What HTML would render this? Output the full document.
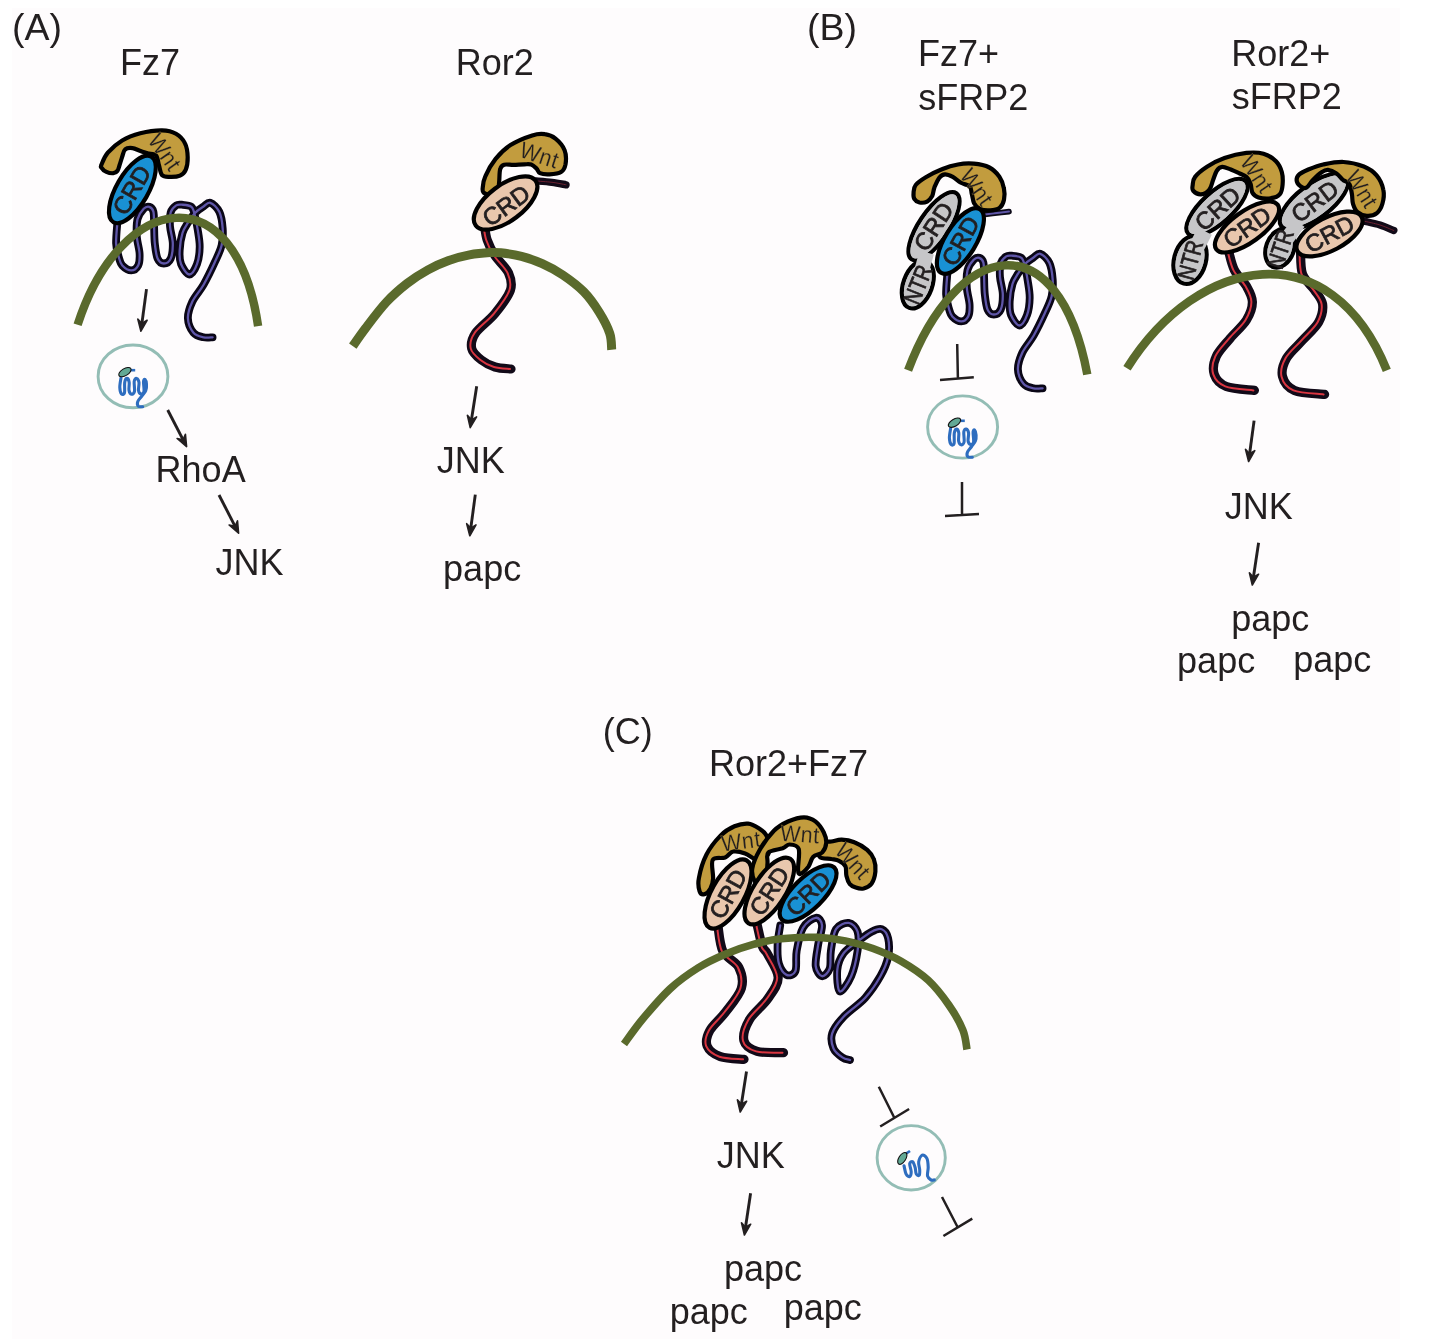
<!DOCTYPE html>
<html><head><meta charset="utf-8"><style>
html,body{margin:0;padding:0;background:#fff;}
svg{display:block;will-change:transform;}
text{font-family:"Liberation Sans", sans-serif;fill:#231f20;}
</style></head><body>
<svg width="1446" height="1339" viewBox="0 0 1446 1339">
<rect x="0" y="0" width="1446" height="1339" fill="#fff"/>
<rect x="12" y="8" width="1388" height="1331" fill="#fefcfd"/>
<text x="12.1" y="40.1" font-size="37.5">(A)</text>
<text x="120.1" y="74.7" font-size="36">Fz7</text>
<text x="455.8" y="74.8" font-size="36">Ror2</text>
<path d="M117.4,222.0 C117.2,225.6 115.9,237.5 116.1,243.4 C116.3,249.3 117.8,253.5 118.8,257.2 C119.8,260.9 120.2,263.3 122.3,265.5 C124.4,267.7 128.7,270.4 131.3,270.4 C134.0,270.4 136.8,268.3 138.2,265.5 C139.6,262.7 139.8,258.6 139.6,253.8 C139.4,249.0 137.2,242.3 136.8,236.5 C136.5,230.7 136.3,223.8 137.5,219.2 C138.7,214.6 141.7,210.9 143.7,208.8 C145.7,206.7 147.7,206.3 149.3,206.8 C150.9,207.3 152.6,208.4 153.4,211.6 C154.2,214.8 153.9,220.8 154.1,226.1 C154.3,231.4 154.2,238.0 154.8,243.4 C155.4,248.8 156.1,255.3 157.6,258.6 C159.1,262.0 161.6,263.5 163.8,263.5 C166.0,263.5 169.2,262.0 170.7,258.6 C172.2,255.3 172.9,248.8 172.8,243.4 C172.7,238.0 170.3,231.3 170.0,226.1 C169.7,220.9 169.7,215.8 170.7,212.3 C171.7,208.9 174.3,206.7 176.2,205.4 C178.0,204.1 179.3,204.5 181.8,204.7 C184.3,204.9 189.2,205.0 191.4,206.8 C193.6,208.6 193.9,211.9 194.9,215.7 C195.9,219.5 196.9,224.4 197.7,229.6 C198.5,234.8 199.8,241.1 199.7,246.9 C199.6,252.7 198.7,259.6 197.0,264.2 C195.3,268.8 192.1,274.5 189.4,274.5 C186.7,274.5 182.6,268.0 181.0,264.0 C179.4,260.0 179.4,255.5 179.7,250.3 C179.9,245.1 181.1,237.6 182.5,233.0 C183.9,228.4 185.9,226.0 188.0,222.7 C190.1,219.4 192.5,215.7 195.0,213.0 C197.5,210.3 200.6,208.5 203.2,206.8 C205.8,205.1 207.6,202.0 210.3,202.8 C213.0,203.6 217.2,207.5 219.3,211.8 C221.4,216.1 222.3,223.0 222.7,228.6 C223.1,234.2 222.9,239.8 221.6,245.4 C220.3,251.0 217.8,255.6 214.8,262.2 C211.8,268.8 207.3,278.1 203.6,284.7 C199.9,291.2 195.0,295.9 192.4,301.5 C189.8,307.1 187.7,313.1 187.9,318.3 C188.1,323.5 190.9,329.6 193.5,332.8 C196.1,336.0 200.4,336.6 203.6,337.3 C206.8,338.1 211.1,337.3 212.6,337.3" fill="none" stroke="#0a0616" stroke-width="7.8" stroke-linecap="round" stroke-linejoin="round"/>
<path d="M117.4,222.0 C117.2,225.6 115.9,237.5 116.1,243.4 C116.3,249.3 117.8,253.5 118.8,257.2 C119.8,260.9 120.2,263.3 122.3,265.5 C124.4,267.7 128.7,270.4 131.3,270.4 C134.0,270.4 136.8,268.3 138.2,265.5 C139.6,262.7 139.8,258.6 139.6,253.8 C139.4,249.0 137.2,242.3 136.8,236.5 C136.5,230.7 136.3,223.8 137.5,219.2 C138.7,214.6 141.7,210.9 143.7,208.8 C145.7,206.7 147.7,206.3 149.3,206.8 C150.9,207.3 152.6,208.4 153.4,211.6 C154.2,214.8 153.9,220.8 154.1,226.1 C154.3,231.4 154.2,238.0 154.8,243.4 C155.4,248.8 156.1,255.3 157.6,258.6 C159.1,262.0 161.6,263.5 163.8,263.5 C166.0,263.5 169.2,262.0 170.7,258.6 C172.2,255.3 172.9,248.8 172.8,243.4 C172.7,238.0 170.3,231.3 170.0,226.1 C169.7,220.9 169.7,215.8 170.7,212.3 C171.7,208.9 174.3,206.7 176.2,205.4 C178.0,204.1 179.3,204.5 181.8,204.7 C184.3,204.9 189.2,205.0 191.4,206.8 C193.6,208.6 193.9,211.9 194.9,215.7 C195.9,219.5 196.9,224.4 197.7,229.6 C198.5,234.8 199.8,241.1 199.7,246.9 C199.6,252.7 198.7,259.6 197.0,264.2 C195.3,268.8 192.1,274.5 189.4,274.5 C186.7,274.5 182.6,268.0 181.0,264.0 C179.4,260.0 179.4,255.5 179.7,250.3 C179.9,245.1 181.1,237.6 182.5,233.0 C183.9,228.4 185.9,226.0 188.0,222.7 C190.1,219.4 192.5,215.7 195.0,213.0 C197.5,210.3 200.6,208.5 203.2,206.8 C205.8,205.1 207.6,202.0 210.3,202.8 C213.0,203.6 217.2,207.5 219.3,211.8 C221.4,216.1 222.3,223.0 222.7,228.6 C223.1,234.2 222.9,239.8 221.6,245.4 C220.3,251.0 217.8,255.6 214.8,262.2 C211.8,268.8 207.3,278.1 203.6,284.7 C199.9,291.2 195.0,295.9 192.4,301.5 C189.8,307.1 187.7,313.1 187.9,318.3 C188.1,323.5 190.9,329.6 193.5,332.8 C196.1,336.0 200.4,336.6 203.6,337.3 C206.8,338.1 211.1,337.3 212.6,337.3" fill="none" stroke="#5f56a8" stroke-width="2.3" stroke-linecap="round" stroke-linejoin="round"/>
<path d="M77.6,324.8 C121.0,190.3 236.1,173.6 258.1,326.2" fill="none" stroke="#5a6a2c" stroke-width="8.4"/>
<path d="M101.5,164.5 C102.6,162.0 104.4,156.7 107.8,152.7 C111.3,148.7 116.8,143.7 122.2,140.5 C127.6,137.2 133.7,134.9 140.3,133.2 C147.0,131.5 156.1,130.2 162.1,130.3 C168.0,130.4 172.2,131.6 176.0,133.8 C179.9,136.0 183.1,139.4 185.0,143.4 C187.0,147.3 187.6,152.9 187.7,157.3 C187.8,161.7 187.0,166.8 185.7,169.8 C184.4,172.9 182.6,174.4 180.0,175.6 C177.3,176.8 172.8,177.0 169.8,176.9 C166.8,176.8 163.9,177.2 162.1,175.2 C160.3,173.3 160.0,168.7 159.0,165.4 C158.0,162.1 157.8,157.5 156.0,155.5 C154.1,153.5 150.4,154.0 147.8,153.3 C145.3,152.5 143.0,151.9 140.5,151.0 C137.9,150.2 135.1,148.4 132.5,148.1 C130.0,147.8 126.9,147.8 125.2,149.4 C123.4,150.9 123.0,154.7 122.0,157.3 C121.1,160.0 120.3,163.0 119.5,165.3 C118.8,167.6 118.4,169.6 117.4,170.9 C116.4,172.2 115.2,173.1 113.4,173.2 C111.5,173.4 108.4,172.8 106.4,171.9 C104.4,171.0 102.2,168.9 101.4,167.6 C100.6,166.4 100.5,167.0 101.5,164.5 Z" fill="#c29c3e" stroke="#000" stroke-width="4.2" stroke-linejoin="round"/>
<text x="0" y="0" dy="0.35em" font-size="23" text-anchor="middle" transform="translate(165.0,152.0) rotate(55.0) scale(0.93,1)" letter-spacing="0.6" style="stroke:#c29c3e;stroke-width:0.2px;paint-order:normal">Wnt</text>
<ellipse cx="0" cy="0" rx="15.9" ry="37.9" transform="translate(132.4,189.4) rotate(30.0)" fill="#1991d4" stroke="#000" stroke-width="4.2"/>
<text x="0" y="0" dy="0.35em" font-size="24" text-anchor="middle" transform="translate(131.6,190.0) rotate(-60.0) scale(1.0,1)" style="stroke:#231f20;stroke-width:0.8px">CRD</text>
<path d="M146.5,289.1 L141.9,323.5" fill="none" stroke="#231f20" stroke-width="2.9"/>
<path d="M137.8,319.1 L140.9,331.2 L147.1,320.3 L141.9,323.5 Z" fill="#231f20" stroke="#231f20" stroke-width="1.6" stroke-linejoin="round"/>
<ellipse cx="133" cy="376.4" rx="34.9" ry="31.4" fill="none" stroke="#93bdb5" stroke-width="2.9"/>
<path d="M121.0,377.9 C120.8,379.5 119.7,384.7 119.8,387.4 C119.9,390.1 120.7,393.0 121.5,393.9 C122.3,394.8 124.0,394.8 124.5,392.9 C125.0,391.0 124.3,384.8 124.7,382.4 C125.1,380.0 126.2,378.4 127.0,378.4 C127.8,378.4 128.9,380.4 129.2,382.4 C129.5,384.4 128.6,388.4 129.0,390.4 C129.4,392.4 130.6,394.0 131.5,394.2 C132.4,394.4 134.1,393.5 134.5,391.4 C134.9,389.3 133.9,383.6 134.2,381.4 C134.5,379.2 135.7,378.2 136.5,378.4 C137.3,378.6 138.7,380.4 139.0,382.4 C139.3,384.4 138.2,388.5 138.5,390.4 C138.8,392.3 140.1,393.7 141.0,393.9 C141.9,394.1 143.6,393.5 144.0,391.4 C144.4,389.3 143.3,383.4 143.5,381.4 C143.7,379.4 144.5,378.9 145.0,379.4 C145.5,379.9 146.4,382.6 146.5,384.4 C146.6,386.2 146.6,388.5 145.8,390.4 C145.1,392.3 143.3,394.0 142.0,395.9 C140.7,397.8 138.4,399.9 137.8,401.6 C137.2,403.3 137.4,405.2 138.2,406.1 C139.0,406.9 141.9,406.6 142.7,406.7" fill="none" stroke="#2e6dbf" stroke-width="3.1" stroke-linecap="round" stroke-linejoin="round"/>
<path d="M131.0,370.2 L135.2,370.2" stroke="#2e6dbf" stroke-width="2.6"/>
<ellipse cx="0" cy="0" rx="6.9" ry="3.5" transform="translate(124.9,372.1) rotate(-31)" fill="#62a995" stroke="#111" stroke-width="1.1"/>
<path d="M167.7,410.0 L183.0,439.7" fill="none" stroke="#231f20" stroke-width="2.9"/>
<path d="M177.1,438.5 L186.6,446.6 L185.4,434.2 L183.0,439.7 Z" fill="#231f20" stroke="#231f20" stroke-width="1.6" stroke-linejoin="round"/>
<text x="155.6" y="481.8" font-size="36">RhoA</text>
<path d="M219.0,495.0 L235.1,526.3" fill="none" stroke="#231f20" stroke-width="2.9"/>
<path d="M229.1,525.0 L238.6,533.2 L237.5,520.8 L235.1,526.3 Z" fill="#231f20" stroke="#231f20" stroke-width="1.6" stroke-linejoin="round"/>
<text x="215.5" y="575" font-size="36">JNK</text>
<path d="M536.0,181.0 C538.7,181.2 547.0,181.7 552.0,182.3 C557.0,182.9 563.7,184.4 566.0,184.8" fill="none" stroke="#120a18" stroke-width="7.4" stroke-linecap="round" stroke-linejoin="round"/>
<path d="M536.0,181.0 C538.7,181.2 547.0,181.7 552.0,182.3 C557.0,182.9 563.7,184.4 566.0,184.8" fill="none" stroke="#6a2030" stroke-width="1.0" stroke-linecap="round" stroke-linejoin="round"/>
<path d="M484.3,224.0 C484.8,226.7 485.4,234.8 487.2,240.0 C489.0,245.2 491.3,250.0 494.9,255.5 C498.4,261.0 505.9,267.1 508.5,272.9 C511.1,278.7 512.7,283.5 510.4,290.3 C508.1,297.1 500.7,306.5 494.9,313.6 C489.1,320.7 479.5,327.2 475.6,333.0 C471.7,338.8 470.7,343.9 471.7,348.4 C472.7,352.9 477.5,356.9 481.4,360.0 C485.3,363.1 490.1,365.5 495.0,367.0 C499.9,368.5 508.3,368.7 511.0,369.0" fill="none" stroke="#120a18" stroke-width="9.2" stroke-linecap="round" stroke-linejoin="round"/>
<path d="M484.3,224.0 C484.8,226.7 485.4,234.8 487.2,240.0 C489.0,245.2 491.3,250.0 494.9,255.5 C498.4,261.0 505.9,267.1 508.5,272.9 C511.1,278.7 512.7,283.5 510.4,290.3 C508.1,297.1 500.7,306.5 494.9,313.6 C489.1,320.7 479.5,327.2 475.6,333.0 C471.7,338.8 470.7,343.9 471.7,348.4 C472.7,352.9 477.5,356.9 481.4,360.0 C485.3,363.1 490.1,365.5 495.0,367.0 C499.9,368.5 508.3,368.7 511.0,369.0" fill="none" stroke="#d93540" stroke-width="2.0" stroke-linecap="round" stroke-linejoin="round" transform="translate(-1.0,0)"/>
<path d="M352.8,346.1 C354.9,343.1 360.1,335.4 365.7,328.0 C371.3,320.6 379.6,309.4 386.5,302.0 C393.4,294.6 400.3,288.8 407.2,283.4 C414.1,278.0 421.1,273.7 428.0,269.9 C434.9,266.1 441.8,263.1 448.7,260.6 C455.6,258.1 462.6,256.2 469.5,254.9 C476.4,253.6 484.8,252.9 490.0,252.6 C495.2,252.2 495.4,252.2 500.7,252.8 C505.9,253.4 514.6,254.6 521.5,256.4 C528.4,258.2 535.3,260.6 542.2,263.7 C549.1,266.8 556.1,270.4 563.0,275.1 C569.9,279.8 577.7,285.5 583.7,291.7 C589.8,297.9 595.0,305.5 599.3,312.4 C603.6,319.3 607.6,327.0 609.7,333.2 C611.8,339.4 611.4,347.0 611.7,349.8" fill="none" stroke="#5a6a2c" stroke-width="9.0"/>
<path d="M482.7,188.1 C483.0,185.4 483.1,181.2 485.3,176.4 C487.4,171.5 491.4,164.1 495.6,158.9 C499.8,153.7 504.4,149.0 510.5,145.1 C516.6,141.1 526.5,137.2 532.2,135.4 C538.0,133.6 540.9,133.6 544.8,134.2 C548.7,134.7 552.2,136.0 555.5,138.7 C558.8,141.4 563.0,146.1 564.6,150.3 C566.3,154.6 566.1,160.7 565.5,164.3 C564.8,167.9 563.6,170.4 561.0,172.1 C558.3,173.8 553.0,174.2 549.5,174.4 C546.0,174.6 542.1,174.2 540.0,173.2 C537.8,172.2 537.9,169.9 536.5,168.5 C535.0,167.1 533.2,165.3 531.2,164.6 C529.2,163.9 527.4,164.3 524.5,164.3 C521.6,164.3 517.2,164.8 513.8,164.9 C510.4,165.0 506.4,164.0 504.2,164.7 C501.9,165.4 501.0,166.2 500.2,169.2 C499.3,172.2 499.6,178.5 499.1,182.4 C498.7,186.3 498.9,190.5 497.4,192.6 C495.9,194.7 492.3,194.9 490.0,194.9 C487.7,194.9 484.8,193.7 483.6,192.6 C482.4,191.5 482.4,190.8 482.7,188.1 Z" fill="#c29c3e" stroke="#000" stroke-width="4.2" stroke-linejoin="round"/>
<text x="0" y="0" dy="0.35em" font-size="23" text-anchor="middle" transform="translate(539.5,155.0) rotate(18.0) scale(0.93,1)" letter-spacing="0.6" style="stroke:#c29c3e;stroke-width:0.2px;paint-order:normal">Wnt</text>
<ellipse cx="0" cy="0" rx="17.9" ry="37.4" transform="translate(505.6,203.0) rotate(53.0)" fill="#e9c7ad" stroke="#000" stroke-width="4.2"/>
<text x="0" y="0" dy="0.35em" font-size="24" text-anchor="middle" transform="translate(506.1,205.5) rotate(-36.0) scale(1.0,1)" style="stroke:#231f20;stroke-width:0.8px">CRD</text>
<path d="M476.7,386.3 L471.4,419.9" fill="none" stroke="#231f20" stroke-width="2.9"/>
<path d="M467.4,415.4 L470.2,427.6 L476.6,416.9 L471.4,419.9 Z" fill="#231f20" stroke="#231f20" stroke-width="1.6" stroke-linejoin="round"/>
<text x="436.7" y="472.6" font-size="36">JNK</text>
<path d="M475.3,494.6 L470.8,528.1" fill="none" stroke="#231f20" stroke-width="2.9"/>
<path d="M466.7,523.7 L469.8,535.8 L476.0,524.9 L470.8,528.1 Z" fill="#231f20" stroke="#231f20" stroke-width="1.6" stroke-linejoin="round"/>
<text x="443.1" y="581.3" font-size="36">papc</text>
<text x="807.1" y="39.6" font-size="37.5">(B)</text>
<text x="918.1" y="66.2" font-size="36">Fz7+</text>
<text x="918.2" y="109.8" font-size="36">sFRP2</text>
<text x="1231.2" y="65.9" font-size="36">Ror2+</text>
<text x="1231.8" y="109.3" font-size="36">sFRP2</text>
<path d="M947.4,273.0 C947.2,276.6 945.9,288.5 946.1,294.4 C946.3,300.3 947.8,304.5 948.8,308.2 C949.8,311.9 950.2,314.3 952.3,316.5 C954.4,318.7 958.6,321.4 961.3,321.4 C963.9,321.4 966.8,319.3 968.2,316.5 C969.6,313.7 969.8,309.6 969.6,304.8 C969.4,300.0 967.1,293.3 966.8,287.5 C966.4,281.7 966.4,274.8 967.5,270.2 C968.6,265.6 971.7,261.9 973.7,259.8 C975.7,257.7 977.7,257.3 979.3,257.8 C980.9,258.3 982.6,259.4 983.4,262.6 C984.2,265.8 983.9,271.8 984.1,277.1 C984.3,282.4 984.2,289.0 984.8,294.4 C985.4,299.8 986.1,306.2 987.6,309.6 C989.1,313.0 991.6,314.5 993.8,314.5 C996.0,314.5 999.2,313.0 1000.7,309.6 C1002.2,306.2 1002.9,299.8 1002.8,294.4 C1002.7,289.0 1000.4,282.3 1000.0,277.1 C999.6,271.9 999.7,266.8 1000.7,263.3 C1001.7,259.9 1004.4,257.7 1006.2,256.4 C1008.1,255.1 1009.3,255.5 1011.8,255.7 C1014.3,255.9 1019.2,256.0 1021.4,257.8 C1023.6,259.6 1023.9,262.9 1024.9,266.7 C1026.0,270.5 1026.9,275.4 1027.7,280.6 C1028.5,285.8 1029.8,292.1 1029.7,297.9 C1029.6,303.7 1028.7,310.6 1027.0,315.2 C1025.3,319.8 1022.1,325.5 1019.4,325.5 C1016.7,325.5 1012.6,319.0 1011.0,315.0 C1009.4,311.0 1009.5,306.5 1009.7,301.3 C1010.0,296.1 1011.1,288.6 1012.5,284.0 C1013.9,279.4 1015.9,277.0 1018.0,273.7 C1020.1,270.4 1022.5,266.6 1025.0,264.0 C1027.5,261.4 1030.7,259.5 1033.2,257.8 C1035.8,256.1 1037.6,253.0 1040.3,253.8 C1043.0,254.6 1047.2,258.5 1049.3,262.8 C1051.4,267.1 1052.3,274.0 1052.7,279.6 C1053.1,285.2 1052.9,290.8 1051.6,296.4 C1050.3,302.0 1047.8,306.6 1044.8,313.2 C1041.8,319.8 1037.3,329.1 1033.6,335.7 C1029.9,342.2 1025.0,346.9 1022.4,352.5 C1019.8,358.1 1017.7,364.1 1017.9,369.3 C1018.1,374.5 1020.9,380.6 1023.5,383.8 C1026.1,387.0 1030.4,387.6 1033.6,388.3 C1036.8,389.1 1041.1,388.3 1042.6,388.3" fill="none" stroke="#0a0616" stroke-width="7.8" stroke-linecap="round" stroke-linejoin="round"/>
<path d="M947.4,273.0 C947.2,276.6 945.9,288.5 946.1,294.4 C946.3,300.3 947.8,304.5 948.8,308.2 C949.8,311.9 950.2,314.3 952.3,316.5 C954.4,318.7 958.6,321.4 961.3,321.4 C963.9,321.4 966.8,319.3 968.2,316.5 C969.6,313.7 969.8,309.6 969.6,304.8 C969.4,300.0 967.1,293.3 966.8,287.5 C966.4,281.7 966.4,274.8 967.5,270.2 C968.6,265.6 971.7,261.9 973.7,259.8 C975.7,257.7 977.7,257.3 979.3,257.8 C980.9,258.3 982.6,259.4 983.4,262.6 C984.2,265.8 983.9,271.8 984.1,277.1 C984.3,282.4 984.2,289.0 984.8,294.4 C985.4,299.8 986.1,306.2 987.6,309.6 C989.1,313.0 991.6,314.5 993.8,314.5 C996.0,314.5 999.2,313.0 1000.7,309.6 C1002.2,306.2 1002.9,299.8 1002.8,294.4 C1002.7,289.0 1000.4,282.3 1000.0,277.1 C999.6,271.9 999.7,266.8 1000.7,263.3 C1001.7,259.9 1004.4,257.7 1006.2,256.4 C1008.1,255.1 1009.3,255.5 1011.8,255.7 C1014.3,255.9 1019.2,256.0 1021.4,257.8 C1023.6,259.6 1023.9,262.9 1024.9,266.7 C1026.0,270.5 1026.9,275.4 1027.7,280.6 C1028.5,285.8 1029.8,292.1 1029.7,297.9 C1029.6,303.7 1028.7,310.6 1027.0,315.2 C1025.3,319.8 1022.1,325.5 1019.4,325.5 C1016.7,325.5 1012.6,319.0 1011.0,315.0 C1009.4,311.0 1009.5,306.5 1009.7,301.3 C1010.0,296.1 1011.1,288.6 1012.5,284.0 C1013.9,279.4 1015.9,277.0 1018.0,273.7 C1020.1,270.4 1022.5,266.6 1025.0,264.0 C1027.5,261.4 1030.7,259.5 1033.2,257.8 C1035.8,256.1 1037.6,253.0 1040.3,253.8 C1043.0,254.6 1047.2,258.5 1049.3,262.8 C1051.4,267.1 1052.3,274.0 1052.7,279.6 C1053.1,285.2 1052.9,290.8 1051.6,296.4 C1050.3,302.0 1047.8,306.6 1044.8,313.2 C1041.8,319.8 1037.3,329.1 1033.6,335.7 C1029.9,342.2 1025.0,346.9 1022.4,352.5 C1019.8,358.1 1017.7,364.1 1017.9,369.3 C1018.1,374.5 1020.9,380.6 1023.5,383.8 C1026.1,387.0 1030.4,387.6 1033.6,388.3 C1036.8,389.1 1041.1,388.3 1042.6,388.3" fill="none" stroke="#5f56a8" stroke-width="2.3" stroke-linecap="round" stroke-linejoin="round"/>
<path d="M908.1,370.3 C956.7,239.5 1058.3,219.8 1087.3,374.5" fill="none" stroke="#5a6a2c" stroke-width="8.4"/>
<path d="M985.0,214.4 C987.0,214.2 993.0,213.5 997.0,213.0 C1001.0,212.5 1007.0,211.8 1009.0,211.6" fill="none" stroke="#0c0918" stroke-width="5.6" stroke-linecap="round" stroke-linejoin="round"/>
<path d="M985.0,214.4 C987.0,214.2 993.0,213.5 997.0,213.0 C1001.0,212.5 1007.0,211.8 1009.0,211.6" fill="none" stroke="#5f56a8" stroke-width="2.0" stroke-linecap="round" stroke-linejoin="round"/>
<path d="M913.6,192.2 C913.8,189.9 913.7,187.5 915.7,185.0 C917.8,182.5 921.5,179.9 925.8,177.3 C930.2,174.7 936.5,171.4 941.9,169.3 C947.2,167.1 952.5,165.4 957.9,164.5 C963.2,163.5 968.5,163.2 973.8,163.7 C979.1,164.2 985.1,165.4 989.4,167.5 C993.7,169.7 996.9,173.2 999.4,176.7 C1001.8,180.1 1003.2,184.5 1003.9,188.3 C1004.7,192.1 1004.7,196.5 1004.0,199.7 C1003.3,202.9 1002.1,205.8 999.8,207.6 C997.5,209.4 993.6,210.2 990.2,210.4 C986.9,210.6 982.5,210.2 979.8,209.0 C977.2,207.8 975.5,205.8 974.1,203.3 C972.8,200.7 972.6,196.7 971.8,193.9 C971.1,191.1 971.6,188.4 969.8,186.5 C968.0,184.7 963.8,184.4 961.0,182.8 C958.2,181.2 955.4,178.3 952.8,176.9 C950.1,175.5 947.2,174.2 945.0,174.3 C942.8,174.4 941.2,175.4 939.4,177.6 C937.7,179.7 935.8,184.2 934.5,187.2 C933.3,190.3 933.4,193.6 932.2,196.0 C930.9,198.4 929.2,200.5 927.1,201.6 C924.9,202.7 921.6,202.9 919.5,202.5 C917.4,202.0 915.3,200.6 914.3,198.9 C913.3,197.2 913.4,194.5 913.6,192.2 Z" fill="#c29c3e" stroke="#000" stroke-width="4.2" stroke-linejoin="round"/>
<text x="0" y="0" dy="0.35em" font-size="23" text-anchor="middle" transform="translate(977.0,187.0) rotate(55.0) scale(0.93,1)" letter-spacing="0.6" style="stroke:#c29c3e;stroke-width:0.2px;paint-order:normal">Wnt</text>
<ellipse cx="0" cy="0" rx="14.4" ry="24.9" transform="translate(917.8,284.5) rotate(20.0)" fill="#c6c6c8" stroke="#000" stroke-width="4.2"/>
<ellipse cx="0" cy="0" rx="14.9" ry="39.9" transform="translate(934.0,226.3) rotate(34.0)" fill="#c6c6c8" stroke="#000" stroke-width="4.2"/>
<ellipse cx="0" cy="0" rx="12.3" ry="22.8" transform="translate(917.8,284.5) rotate(20.0)" fill="#c6c6c8"/>
<ellipse cx="0" cy="0" rx="12.8" ry="37.8" transform="translate(934.0,226.3) rotate(34.0)" fill="#c6c6c8"/>
<path d="M917.8,284.5 L926.7,252.5" stroke="#c6c6c8" stroke-width="14.8"/>
<text x="0" y="0" dy="0.35em" font-size="24" text-anchor="middle" transform="translate(917.8,284.5) rotate(-68.0) scale(0.8,1)" style="stroke:#231f20;stroke-width:0.8px">NTR</text>
<text x="0" y="0" dy="0.35em" font-size="24" text-anchor="middle" transform="translate(933.5,226.5) rotate(-57.0) scale(1.0,1)" style="stroke:#231f20;stroke-width:0.8px">CRD</text>
<ellipse cx="0" cy="0" rx="15.4" ry="37.3" transform="translate(960.4,241.0) rotate(31.5)" fill="#1991d4" stroke="#000" stroke-width="4.2"/>
<text x="0" y="0" dy="0.35em" font-size="24" text-anchor="middle" transform="translate(960.4,241.0) rotate(-61.0) scale(1.0,1)" style="stroke:#231f20;stroke-width:0.8px">CRD</text>
<path d="M957.2,344.0 L957.9,378.0 M940.0,380.0 L973.8,377.2" fill="none" stroke="#231f20" stroke-width="2.5"/>
<ellipse cx="962.6" cy="427" rx="35" ry="31.1" fill="none" stroke="#93bdb5" stroke-width="2.9"/>
<path d="M950.6,428.5 C950.4,430.1 949.3,435.3 949.4,438.0 C949.5,440.7 950.3,443.6 951.1,444.5 C951.9,445.4 953.6,445.4 954.1,443.5 C954.6,441.6 953.9,435.4 954.3,433.0 C954.7,430.6 955.9,429.0 956.6,429.0 C957.4,429.0 958.5,431.0 958.8,433.0 C959.1,435.0 958.2,439.0 958.6,441.0 C959.0,443.0 960.2,444.6 961.1,444.8 C962.0,445.0 963.6,444.1 964.1,442.0 C964.6,439.9 963.5,434.2 963.8,432.0 C964.1,429.8 965.3,428.8 966.1,429.0 C966.9,429.2 968.3,431.0 968.6,433.0 C968.9,435.0 967.8,439.1 968.1,441.0 C968.4,442.9 969.7,444.3 970.6,444.5 C971.5,444.7 973.2,444.1 973.6,442.0 C974.0,439.9 972.9,434.0 973.1,432.0 C973.3,430.0 974.1,429.5 974.6,430.0 C975.1,430.5 976.0,433.2 976.1,435.0 C976.2,436.8 976.1,439.1 975.4,441.0 C974.6,442.9 972.9,444.6 971.6,446.5 C970.3,448.4 968.0,450.5 967.4,452.2 C966.8,453.9 967.0,455.8 967.8,456.7 C968.6,457.6 971.6,457.2 972.3,457.3" fill="none" stroke="#2e6dbf" stroke-width="3.1" stroke-linecap="round" stroke-linejoin="round"/>
<path d="M960.6,420.8 L964.8,420.8" stroke="#2e6dbf" stroke-width="2.6"/>
<ellipse cx="0" cy="0" rx="6.9" ry="3.5" transform="translate(954.5,422.7) rotate(-31)" fill="#62a995" stroke="#111" stroke-width="1.1"/>
<path d="M962.0,482.0 L962.0,515.0 M945.0,516.0 L979.0,514.0" fill="none" stroke="#231f20" stroke-width="2.5"/>
<path d="M1228.3,250.0 C1229.3,253.3 1231.4,264.1 1234.4,270.1 C1237.4,276.1 1243.4,280.8 1246.4,286.1 C1249.4,291.4 1252.4,296.4 1252.4,302.1 C1252.4,307.8 1250.1,314.2 1246.4,320.2 C1242.7,326.2 1235.3,332.2 1230.3,338.2 C1225.3,344.2 1219.0,350.3 1216.3,356.3 C1213.6,362.3 1212.6,369.4 1214.3,374.4 C1216.0,379.4 1219.6,383.7 1226.3,386.4 C1233.0,389.1 1249.7,389.7 1254.4,390.4" fill="none" stroke="#120a18" stroke-width="9.2" stroke-linecap="round" stroke-linejoin="round"/>
<path d="M1228.3,250.0 C1229.3,253.3 1231.4,264.1 1234.4,270.1 C1237.4,276.1 1243.4,280.8 1246.4,286.1 C1249.4,291.4 1252.4,296.4 1252.4,302.1 C1252.4,307.8 1250.1,314.2 1246.4,320.2 C1242.7,326.2 1235.3,332.2 1230.3,338.2 C1225.3,344.2 1219.0,350.3 1216.3,356.3 C1213.6,362.3 1212.6,369.4 1214.3,374.4 C1216.0,379.4 1219.6,383.7 1226.3,386.4 C1233.0,389.1 1249.7,389.7 1254.4,390.4" fill="none" stroke="#d93540" stroke-width="2.0" stroke-linecap="round" stroke-linejoin="round" transform="translate(-1.0,0)"/>
<path d="M1300.5,250.0 C1300.8,254.0 1300.2,267.4 1302.5,274.1 C1304.8,280.8 1311.2,285.1 1314.6,290.1 C1317.9,295.1 1321.9,298.9 1322.6,304.2 C1323.3,309.5 1321.9,316.2 1318.6,322.2 C1315.2,328.2 1307.8,334.3 1302.5,340.3 C1297.2,346.3 1289.8,352.3 1286.5,358.3 C1283.2,364.3 1281.2,371.0 1282.5,376.4 C1283.8,381.8 1287.5,387.4 1294.5,390.4 C1301.5,393.4 1319.6,393.7 1324.6,394.4" fill="none" stroke="#120a18" stroke-width="9.2" stroke-linecap="round" stroke-linejoin="round"/>
<path d="M1300.5,250.0 C1300.8,254.0 1300.2,267.4 1302.5,274.1 C1304.8,280.8 1311.2,285.1 1314.6,290.1 C1317.9,295.1 1321.9,298.9 1322.6,304.2 C1323.3,309.5 1321.9,316.2 1318.6,322.2 C1315.2,328.2 1307.8,334.3 1302.5,340.3 C1297.2,346.3 1289.8,352.3 1286.5,358.3 C1283.2,364.3 1281.2,371.0 1282.5,376.4 C1283.8,381.8 1287.5,387.4 1294.5,390.4 C1301.5,393.4 1319.6,393.7 1324.6,394.4" fill="none" stroke="#d93540" stroke-width="2.0" stroke-linecap="round" stroke-linejoin="round" transform="translate(-1.0,0)"/>
<path d="M1127.0,368.3 C1198.1,254.7 1330.8,230.7 1386.8,370.3" fill="none" stroke="#5a6a2c" stroke-width="8.6"/>
<ellipse cx="0" cy="0" rx="15.9" ry="24.4" transform="translate(1190.0,260.0) rotate(15.0)" fill="#c6c6c8" stroke="#000" stroke-width="4.2"/>
<ellipse cx="0" cy="0" rx="15.4" ry="38.9" transform="translate(1217.0,207.5) rotate(47.7)" fill="#c6c6c8" stroke="#000" stroke-width="4.2"/>
<ellipse cx="0" cy="0" rx="13.8" ry="22.3" transform="translate(1190.0,260.0) rotate(15.0)" fill="#c6c6c8"/>
<ellipse cx="0" cy="0" rx="13.3" ry="36.8" transform="translate(1217.0,207.5) rotate(47.7)" fill="#c6c6c8"/>
<path d="M1190.0,260.0 L1204.8,231.1" stroke="#c6c6c8" stroke-width="15.8"/>
<text x="0" y="0" dy="0.35em" font-size="24" text-anchor="middle" transform="translate(1190.0,260.0) rotate(-75.0) scale(0.8,1)" style="stroke:#231f20;stroke-width:0.8px">NTR</text>
<text x="0" y="0" dy="0.35em" font-size="24" text-anchor="middle" transform="translate(1217.5,208.5) rotate(-42.3) scale(1.0,1)" style="stroke:#231f20;stroke-width:0.8px">CRD</text>
<ellipse cx="0" cy="0" rx="15.4" ry="37.9" transform="translate(1247.0,227.0) rotate(54.2)" fill="#e9c7ad" stroke="#000" stroke-width="4.2"/>
<text x="0" y="0" dy="0.35em" font-size="24" text-anchor="middle" transform="translate(1247.0,227.0) rotate(-35.8) scale(1.0,1)" style="stroke:#231f20;stroke-width:0.8px">CRD</text>
<path d="M1192.7,185.0 C1193.0,182.7 1192.7,180.0 1195.1,176.9 C1197.4,173.9 1202.1,170.0 1207.0,166.8 C1211.9,163.7 1217.9,160.4 1224.5,158.1 C1231.1,155.7 1239.9,153.6 1246.4,152.9 C1252.9,152.2 1258.6,152.3 1263.5,153.7 C1268.4,155.1 1272.9,158.1 1276.0,161.2 C1279.0,164.2 1280.7,168.1 1281.8,172.0 C1282.9,175.9 1282.9,180.9 1282.6,184.6 C1282.3,188.3 1281.9,191.9 1279.9,194.1 C1278.0,196.4 1274.5,197.7 1270.9,198.2 C1267.3,198.8 1261.6,198.3 1258.5,197.4 C1255.5,196.5 1253.8,195.2 1252.5,192.9 C1251.1,190.5 1251.5,185.9 1250.4,183.2 C1249.4,180.5 1248.3,178.6 1246.4,176.9 C1244.5,175.3 1241.5,174.3 1238.9,173.1 C1236.3,171.9 1233.5,170.6 1230.8,169.5 C1228.0,168.5 1224.5,166.7 1222.2,166.9 C1219.8,167.1 1218.3,168.5 1216.8,170.7 C1215.3,172.9 1214.3,177.1 1213.0,180.2 C1211.8,183.4 1211.4,187.2 1209.4,189.6 C1207.4,192.0 1203.6,194.2 1200.9,194.4 C1198.2,194.6 1194.6,192.3 1193.2,190.8 C1191.8,189.2 1192.4,187.3 1192.7,185.0 Z" fill="#c29c3e" stroke="#000" stroke-width="4.2" stroke-linejoin="round"/>
<text x="0" y="0" dy="0.35em" font-size="23" text-anchor="middle" transform="translate(1257.0,174.0) rotate(56.0) scale(0.93,1)" letter-spacing="0.6" style="stroke:#c29c3e;stroke-width:0.2px;paint-order:normal">Wnt</text>
<path d="M1364.0,221.1 C1366.7,221.8 1375.0,223.4 1380.0,225.0 C1385.0,226.6 1391.5,229.6 1393.8,230.5" fill="none" stroke="#120a18" stroke-width="7.4" stroke-linecap="round" stroke-linejoin="round"/>
<path d="M1364.0,221.1 C1366.7,221.8 1375.0,223.4 1380.0,225.0 C1385.0,226.6 1391.5,229.6 1393.8,230.5" fill="none" stroke="#6a2030" stroke-width="1.0" stroke-linecap="round" stroke-linejoin="round"/>
<ellipse cx="0" cy="0" rx="13.9" ry="19.9" transform="translate(1280.0,248.3) rotate(20.0)" fill="#c6c6c8" stroke="#000" stroke-width="4.2"/>
<ellipse cx="0" cy="0" rx="16.9" ry="40.9" transform="translate(1314.0,201.5) rotate(53.0)" fill="#c6c6c8" stroke="#000" stroke-width="4.2"/>
<ellipse cx="0" cy="0" rx="11.8" ry="17.8" transform="translate(1280.0,248.3) rotate(20.0)" fill="#c6c6c8"/>
<ellipse cx="0" cy="0" rx="14.8" ry="38.8" transform="translate(1314.0,201.5) rotate(53.0)" fill="#c6c6c8"/>
<path d="M1280.0,248.3 L1298.7,222.6" stroke="#c6c6c8" stroke-width="14.4"/>
<text x="0" y="0" dy="0.35em" font-size="24" text-anchor="middle" transform="translate(1280.0,249.0) rotate(-72.0) scale(0.8,1)" style="stroke:#231f20;stroke-width:0.8px">NTR</text>
<text x="0" y="0" dy="0.35em" font-size="24" text-anchor="middle" transform="translate(1314.7,201.3) rotate(-37.0) scale(1.0,1)" style="stroke:#231f20;stroke-width:0.8px">CRD</text>
<ellipse cx="0" cy="0" rx="16.4" ry="36.4" transform="translate(1329.5,234.0) rotate(62.0)" fill="#e9c7ad" stroke="#000" stroke-width="4.2"/>
<text x="0" y="0" dy="0.35em" font-size="24" text-anchor="middle" transform="translate(1329.5,234.0) rotate(-28.0) scale(1.0,1)" style="stroke:#231f20;stroke-width:0.8px">CRD</text>
<path d="M1296.6,180.2 C1296.5,178.3 1297.3,176.1 1299.2,174.4 C1301.0,172.7 1303.8,171.4 1307.8,169.7 C1311.8,168.1 1317.2,165.8 1323.2,164.5 C1329.1,163.3 1336.7,161.7 1343.5,162.0 C1350.3,162.3 1358.2,164.3 1363.8,166.5 C1369.3,168.7 1373.3,171.4 1376.6,175.4 C1379.9,179.3 1382.5,185.3 1383.4,190.1 C1384.4,194.8 1383.5,199.9 1382.4,203.8 C1381.3,207.6 1379.5,211.1 1376.9,213.1 C1374.3,215.2 1370.0,216.1 1366.8,215.9 C1363.6,215.8 1359.9,214.2 1357.6,212.2 C1355.3,210.2 1353.9,206.7 1353.0,203.8 C1352.1,200.8 1352.5,197.9 1352.0,194.7 C1351.4,191.4 1351.0,186.8 1349.5,184.3 C1348.0,181.8 1345.1,181.6 1342.9,179.8 C1340.8,177.9 1339.0,175.0 1336.5,173.4 C1334.0,171.7 1330.5,170.1 1328.0,169.9 C1325.6,169.7 1324.1,170.5 1321.6,172.2 C1319.1,173.9 1315.5,177.3 1312.9,179.9 C1310.4,182.5 1308.5,186.7 1306.4,187.7 C1304.2,188.7 1301.6,187.2 1300.0,185.9 C1298.3,184.7 1296.7,182.1 1296.6,180.2 Z" fill="#c29c3e" stroke="#000" stroke-width="4.2" stroke-linejoin="round"/>
<text x="0" y="0" dy="0.35em" font-size="23" text-anchor="middle" transform="translate(1362.0,189.0) rotate(58.0) scale(0.93,1)" letter-spacing="0.6" style="stroke:#c29c3e;stroke-width:0.2px;paint-order:normal">Wnt</text>
<path d="M1254.1,420.6 L1249.6,453.8" fill="none" stroke="#231f20" stroke-width="2.9"/>
<path d="M1245.5,449.4 L1248.6,461.5 L1254.8,450.6 L1249.6,453.8 Z" fill="#231f20" stroke="#231f20" stroke-width="1.6" stroke-linejoin="round"/>
<text x="1224.7" y="518.5" font-size="36">JNK</text>
<path d="M1258.6,542.8 L1253.4,577.3" fill="none" stroke="#231f20" stroke-width="2.9"/>
<path d="M1249.4,572.8 L1252.3,585.0 L1258.6,574.2 L1253.4,577.3 Z" fill="#231f20" stroke="#231f20" stroke-width="1.6" stroke-linejoin="round"/>
<text x="1231.2" y="630.8" font-size="36">papc</text>
<text x="1177.1" y="672.5" font-size="36">papc</text>
<text x="1293.2" y="671.7" font-size="36">papc</text>
<text x="602.8" y="744.1" font-size="36">(C)</text>
<text x="709" y="775.8" font-size="36">Ror2+Fz7</text>
<path d="M717.8,925.0 C718.7,929.4 719.5,944.5 723.0,951.5 C726.5,958.5 735.7,961.2 738.8,967.3 C741.9,973.4 743.6,980.8 741.4,988.3 C739.2,995.8 730.9,1005.0 725.6,1012.0 C720.4,1019.0 713.0,1024.7 709.9,1030.4 C706.8,1036.1 705.5,1041.8 707.2,1046.2 C709.0,1050.6 714.3,1054.5 720.4,1056.7 C726.5,1058.9 740.1,1058.9 744.0,1059.3" fill="none" stroke="#120a18" stroke-width="9.2" stroke-linecap="round" stroke-linejoin="round"/>
<path d="M717.8,925.0 C718.7,929.4 719.5,944.5 723.0,951.5 C726.5,958.5 735.7,961.2 738.8,967.3 C741.9,973.4 743.6,980.8 741.4,988.3 C739.2,995.8 730.9,1005.0 725.6,1012.0 C720.4,1019.0 713.0,1024.7 709.9,1030.4 C706.8,1036.1 705.5,1041.8 707.2,1046.2 C709.0,1050.6 714.3,1054.5 720.4,1056.7 C726.5,1058.9 740.1,1058.9 744.0,1059.3" fill="none" stroke="#d93540" stroke-width="2.0" stroke-linecap="round" stroke-linejoin="round" transform="translate(-1.0,0)"/>
<path d="M757.2,925.0 C758.1,928.5 760.6,941.4 762.4,946.3 C764.1,951.2 765.1,949.0 767.7,954.2 C770.3,959.5 778.2,970.4 778.2,977.8 C778.2,985.2 772.5,991.8 767.7,998.8 C762.9,1005.8 753.2,1012.9 749.3,1019.9 C745.3,1026.9 742.7,1035.7 744.0,1040.9 C745.3,1046.2 750.6,1049.4 757.2,1051.4 C763.8,1053.4 779.1,1052.5 783.5,1052.7" fill="none" stroke="#120a18" stroke-width="9.2" stroke-linecap="round" stroke-linejoin="round"/>
<path d="M757.2,925.0 C758.1,928.5 760.6,941.4 762.4,946.3 C764.1,951.2 765.1,949.0 767.7,954.2 C770.3,959.5 778.2,970.4 778.2,977.8 C778.2,985.2 772.5,991.8 767.7,998.8 C762.9,1005.8 753.2,1012.9 749.3,1019.9 C745.3,1026.9 742.7,1035.7 744.0,1040.9 C745.3,1046.2 750.6,1049.4 757.2,1051.4 C763.8,1053.4 779.1,1052.5 783.5,1052.7" fill="none" stroke="#d93540" stroke-width="2.0" stroke-linecap="round" stroke-linejoin="round" transform="translate(-1.0,0)"/>
<path d="M780.2,925.4 C779.8,928.6 777.8,938.0 777.6,944.4 C777.4,950.8 777.4,958.4 778.9,963.5 C780.4,968.6 783.8,973.6 786.5,974.9 C789.2,976.2 793.7,975.1 795.4,971.1 C797.1,967.1 795.4,958.0 796.7,950.8 C798.0,943.6 799.8,933.4 803.0,927.9 C806.2,922.4 812.5,918.2 815.7,917.8 C818.9,917.4 821.6,921.0 822.0,925.4 C822.4,929.8 819.2,937.6 818.2,944.4 C817.2,951.2 815.1,960.7 815.7,966.0 C816.3,971.3 819.7,975.8 822.0,976.2 C824.3,976.6 828.2,972.8 829.7,968.6 C831.2,964.4 829.9,957.4 830.9,950.8 C831.9,944.2 833.0,933.9 836.0,929.2 C839.0,924.6 845.1,922.5 848.7,922.9 C852.3,923.3 856.1,927.1 857.6,931.7 C859.1,936.4 858.7,943.4 857.6,950.8 C856.5,958.2 854.2,969.4 851.2,976.2 C848.2,983.0 842.1,992.5 839.8,991.4 C837.5,990.3 836.7,976.1 837.3,969.8 C837.9,963.4 840.0,958.2 843.6,953.3 C847.2,948.4 854.2,944.2 858.9,940.6 C863.6,937.0 867.8,933.6 871.6,931.7 C875.4,929.8 879.0,928.1 881.7,929.2 C884.5,930.3 887.0,933.5 888.1,938.1 C889.2,942.8 889.4,950.8 888.1,957.1 C886.8,963.5 884.2,969.4 880.4,976.2 C876.6,983.0 871.3,991.0 865.2,997.8 C859.1,1004.6 849.1,1010.9 843.6,1016.8 C838.1,1022.7 833.9,1028.0 832.2,1033.3 C830.5,1038.6 831.8,1044.5 833.5,1048.5 C835.2,1052.5 839.6,1055.5 842.4,1057.4 C845.1,1059.3 848.7,1059.6 850.0,1060.0" fill="none" stroke="#0a0616" stroke-width="7.8" stroke-linecap="round" stroke-linejoin="round"/>
<path d="M780.2,925.4 C779.8,928.6 777.8,938.0 777.6,944.4 C777.4,950.8 777.4,958.4 778.9,963.5 C780.4,968.6 783.8,973.6 786.5,974.9 C789.2,976.2 793.7,975.1 795.4,971.1 C797.1,967.1 795.4,958.0 796.7,950.8 C798.0,943.6 799.8,933.4 803.0,927.9 C806.2,922.4 812.5,918.2 815.7,917.8 C818.9,917.4 821.6,921.0 822.0,925.4 C822.4,929.8 819.2,937.6 818.2,944.4 C817.2,951.2 815.1,960.7 815.7,966.0 C816.3,971.3 819.7,975.8 822.0,976.2 C824.3,976.6 828.2,972.8 829.7,968.6 C831.2,964.4 829.9,957.4 830.9,950.8 C831.9,944.2 833.0,933.9 836.0,929.2 C839.0,924.6 845.1,922.5 848.7,922.9 C852.3,923.3 856.1,927.1 857.6,931.7 C859.1,936.4 858.7,943.4 857.6,950.8 C856.5,958.2 854.2,969.4 851.2,976.2 C848.2,983.0 842.1,992.5 839.8,991.4 C837.5,990.3 836.7,976.1 837.3,969.8 C837.9,963.4 840.0,958.2 843.6,953.3 C847.2,948.4 854.2,944.2 858.9,940.6 C863.6,937.0 867.8,933.6 871.6,931.7 C875.4,929.8 879.0,928.1 881.7,929.2 C884.5,930.3 887.0,933.5 888.1,938.1 C889.2,942.8 889.4,950.8 888.1,957.1 C886.8,963.5 884.2,969.4 880.4,976.2 C876.6,983.0 871.3,991.0 865.2,997.8 C859.1,1004.6 849.1,1010.9 843.6,1016.8 C838.1,1022.7 833.9,1028.0 832.2,1033.3 C830.5,1038.6 831.8,1044.5 833.5,1048.5 C835.2,1052.5 839.6,1055.5 842.4,1057.4 C845.1,1059.3 848.7,1059.6 850.0,1060.0" fill="none" stroke="#5f56a8" stroke-width="2.3" stroke-linecap="round" stroke-linejoin="round"/>
<path d="M624.0,1044.0 C627.1,1039.8 635.0,1028.2 642.7,1019.0 C650.4,1009.8 661.1,997.1 670.3,988.6 C679.5,980.1 688.8,973.7 698.0,967.9 C707.2,962.1 716.5,957.9 725.7,954.0 C734.9,950.1 744.1,946.9 753.3,944.4 C762.5,941.9 770.3,940.0 781.0,938.8 C791.7,937.6 807.0,937.0 817.7,937.4 C828.4,937.8 836.1,939.0 845.3,940.9 C854.5,942.8 863.8,945.1 873.0,948.5 C882.2,951.9 891.5,955.7 900.7,961.0 C909.9,966.3 920.2,972.9 928.3,980.3 C936.3,987.7 943.2,996.9 949.0,1005.2 C954.8,1013.5 959.9,1022.7 962.9,1030.1 C965.9,1037.5 966.3,1046.3 967.0,1049.5" fill="none" stroke="#5a6a2c" stroke-width="7.6"/>
<path d="M819.6,843.3 C821.6,840.8 827.6,842.1 831.3,841.5 C835.0,840.9 837.8,839.6 841.7,839.7 C845.5,839.8 850.1,840.5 854.3,842.3 C858.6,844.0 863.9,847.1 867.2,849.9 C870.4,852.8 872.5,855.5 873.8,859.1 C875.2,862.7 875.8,867.4 875.4,871.5 C875.0,875.6 873.4,881.0 871.5,883.8 C869.5,886.6 866.3,887.8 863.6,888.5 C861.0,889.1 858.1,888.4 855.8,887.6 C853.4,886.8 851.2,885.7 849.6,883.8 C848.1,881.8 847.1,878.6 846.4,875.7 C845.7,872.8 846.6,868.7 845.4,866.2 C844.1,863.7 841.4,862.0 839.0,860.8 C836.7,859.6 834.6,859.6 831.4,859.0 C828.1,858.3 821.6,859.3 819.6,856.7 C817.7,854.1 817.7,845.9 819.6,843.3 Z" fill="#c29c3e" stroke="#000" stroke-width="4.2" stroke-linejoin="round"/>
<text x="0" y="0" dy="0.35em" font-size="23" text-anchor="middle" transform="translate(853.0,861.0) rotate(48.0) scale(0.93,1)" letter-spacing="0.6" style="stroke:#c29c3e;stroke-width:0.2px;paint-order:normal">Wnt</text>
<path d="M699.6,891.3 C698.7,888.6 697.7,884.2 698.9,878.1 C700.0,871.9 702.9,861.5 706.5,854.5 C710.1,847.4 715.9,840.3 720.5,835.6 C725.2,830.9 729.9,828.3 734.5,826.3 C739.1,824.3 744.0,823.3 748.1,823.6 C752.1,823.9 755.7,826.2 758.8,828.2 C761.8,830.1 764.3,831.8 766.2,835.1 C768.1,838.4 770.2,843.9 769.9,847.8 C769.7,851.7 767.0,856.3 764.7,858.3 C762.5,860.4 759.6,860.7 756.3,859.9 C753.1,859.1 749.0,854.9 745.1,853.5 C741.3,852.1 736.6,850.8 733.2,851.5 C729.9,852.1 728.5,856.0 725.1,857.5 C721.6,858.9 714.7,856.5 712.7,860.0 C710.7,863.5 713.5,873.8 713.1,878.6 C712.8,883.3 712.0,885.8 710.5,888.4 C709.1,891.0 706.2,893.7 704.4,894.2 C702.6,894.7 700.5,894.0 699.6,891.3 Z" fill="#c29c3e" stroke="#000" stroke-width="4.2" stroke-linejoin="round"/>
<text x="0" y="0" dy="0.35em" font-size="23" text-anchor="middle" transform="translate(741.0,841.0) rotate(-7.0) scale(0.93,1)" letter-spacing="0.6" style="stroke:#c29c3e;stroke-width:0.2px;paint-order:normal">Wnt</text>
<ellipse cx="0" cy="0" rx="16.4" ry="38.4" transform="translate(728.0,894.0) rotate(29.0)" fill="#e9c7ad" stroke="#000" stroke-width="4.2"/>
<text x="0" y="0" dy="0.35em" font-size="24" text-anchor="middle" transform="translate(728.0,894.0) rotate(-61.0) scale(1.0,1)" style="stroke:#231f20;stroke-width:0.8px">CRD</text>
<path d="M754.6,881.3 C753.4,878.9 751.4,873.6 752.3,868.3 C753.2,863.0 756.2,856.0 759.8,849.7 C763.4,843.5 769.3,835.5 773.9,830.8 C778.6,826.1 782.9,823.8 788.0,821.5 C793.0,819.3 799.4,817.3 804.0,817.3 C808.6,817.3 812.1,818.9 815.4,821.4 C818.6,823.9 821.9,828.7 823.7,832.3 C825.5,835.9 826.4,839.5 826.2,842.8 C826.0,846.2 824.4,850.0 822.3,852.4 C820.1,854.7 815.6,854.4 813.3,856.8 C811.0,859.2 810.5,863.8 808.4,866.7 C806.2,869.5 802.0,873.5 800.3,873.9 C798.6,874.4 798.3,873.6 798.0,869.4 C797.8,865.3 800.1,853.1 798.7,848.9 C797.3,844.8 792.3,844.6 789.6,844.5 C786.9,844.4 786.1,846.9 782.6,848.3 C779.1,849.6 770.9,850.0 768.4,852.5 C765.8,855.0 767.9,858.6 767.5,863.1 C767.1,867.6 767.3,876.3 766.0,879.5 C764.7,882.7 761.6,882.2 759.7,882.5 C757.8,882.8 755.9,883.6 754.6,881.3 Z" fill="#c29c3e" stroke="#000" stroke-width="4.2" stroke-linejoin="round"/>
<text x="0" y="0" dy="0.35em" font-size="23" text-anchor="middle" transform="translate(800.0,834.0) rotate(4.0) scale(0.93,1)" letter-spacing="0.6" style="stroke:#c29c3e;stroke-width:0.2px;paint-order:normal">Wnt</text>
<ellipse cx="0" cy="0" rx="15.9" ry="38.4" transform="translate(769.3,891.0) rotate(33.0)" fill="#e9c7ad" stroke="#000" stroke-width="4.2"/>
<text x="0" y="0" dy="0.35em" font-size="24" text-anchor="middle" transform="translate(769.3,891.0) rotate(-57.0) scale(1.0,1)" style="stroke:#231f20;stroke-width:0.8px">CRD</text>
<ellipse cx="0" cy="0" rx="15.4" ry="36.9" transform="translate(808.1,893.5) rotate(45.4)" fill="#1991d4" stroke="#000" stroke-width="4.2"/>
<text x="0" y="0" dy="0.35em" font-size="24" text-anchor="middle" transform="translate(808.1,893.5) rotate(-44.6) scale(1.0,1)" style="stroke:#231f20;stroke-width:0.8px">CRD</text>
<path d="M746.5,1071.5 L741.4,1104.3" fill="none" stroke="#231f20" stroke-width="2.9"/>
<path d="M737.4,1099.8 L740.2,1112.0 L746.6,1101.3 L741.4,1104.3 Z" fill="#231f20" stroke="#231f20" stroke-width="1.6" stroke-linejoin="round"/>
<text x="716.8" y="1168.3" font-size="36">JNK</text>
<path d="M750.6,1193.3 L745.5,1227.3" fill="none" stroke="#231f20" stroke-width="2.9"/>
<path d="M741.5,1222.8 L744.4,1235.0 L750.7,1224.2 L745.5,1227.3 Z" fill="#231f20" stroke="#231f20" stroke-width="1.6" stroke-linejoin="round"/>
<text x="724" y="1280.8" font-size="36">papc</text>
<text x="669.8" y="1323.5" font-size="36">papc</text>
<text x="783.7" y="1320.4" font-size="36">papc</text>
<path d="M878.8,1086.8 L894.3,1117.7 M880.2,1126.5 L909.1,1109.0" fill="none" stroke="#231f20" stroke-width="2.5"/>
<ellipse cx="911.2" cy="1157.8" rx="34.1" ry="32.2" fill="none" stroke="#93bdb5" stroke-width="2.9"/>
<path d="M904.0,1165.8 C904.4,1167.2 905.2,1172.5 906.2,1174.3 C907.2,1176.1 908.9,1177.0 909.7,1176.6 C910.5,1176.2 911.2,1173.9 911.2,1171.8 C911.2,1169.7 909.5,1165.5 909.7,1163.8 C910.0,1162.1 911.8,1161.1 912.7,1161.8 C913.6,1162.5 914.6,1165.8 915.2,1167.8 C915.8,1169.8 915.5,1172.5 916.2,1173.8 C916.9,1175.0 918.6,1176.0 919.2,1175.3 C919.8,1174.6 919.8,1172.0 919.7,1169.8 C919.6,1167.5 918.3,1164.2 918.7,1161.8 C919.1,1159.3 920.8,1155.7 922.2,1155.1 C923.6,1154.5 925.9,1156.4 926.9,1158.4 C927.9,1160.4 928.1,1164.3 928.2,1167.2 C928.3,1170.1 927.0,1173.8 927.5,1175.9 C928.0,1178.0 929.8,1179.2 930.9,1179.9 C932.0,1180.6 933.7,1179.9 934.3,1179.9" fill="none" stroke="#2e6dbf" stroke-width="3.1" stroke-linecap="round" stroke-linejoin="round"/>
<path d="M906.0,1153.7 L910.0,1151.0" stroke="#2e6dbf" stroke-width="2.6"/>
<ellipse cx="0" cy="0" rx="6.7" ry="3.4" transform="translate(902.3,1158.4) rotate(-57)" fill="#62a995" stroke="#111" stroke-width="1.1"/>
<path d="M942.0,1197.0 L957.8,1227.5 M943.4,1236.0 L972.3,1218.6" fill="none" stroke="#231f20" stroke-width="2.5"/>
</svg></body></html>
